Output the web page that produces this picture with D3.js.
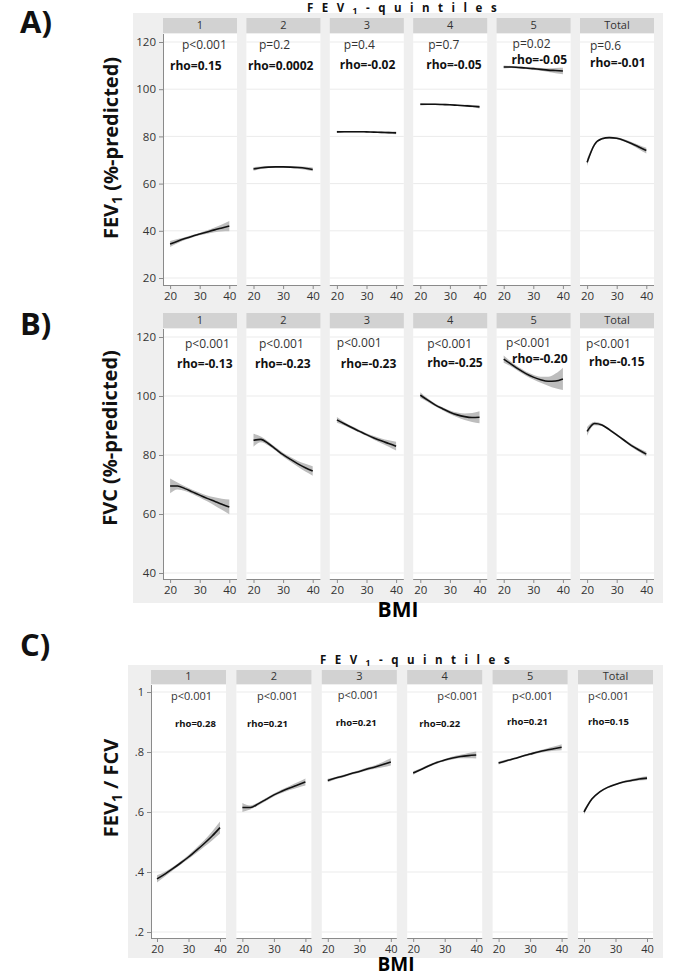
<!DOCTYPE html>
<html>
<head>
<meta charset="utf-8">
<script src="https://cdn.jsdelivr.net/npm/d3@7"></script>
<style>
  body { margin: 0; background: #fff; }
  svg { display: block; }
  text { font-family: "Open Sans", "DejaVu Sans", sans-serif; }
</style>
</head>
<body>
<div id="chart"></div>
<script>
// facettes et grille BMI
const facets = ["1", "2", "3", "4", "5", "Total"];
const bmi = [20, 22.5, 25, 27.5, 30, 32.5, 35, 37.5, 40];
const bmiTicks = [20, 30, 40];

// A) FEV1 (%-predicted)
const fev1Fit = [
  [34.4, 35.6, 36.7, 37.7, 38.6, 39.5, 40.4, 41.2, 42.0],
  [66.2, 66.7, 67.0, 67.1, 67.1, 67.0, 66.8, 66.5, 66.0],
  [81.9, 82.0, 82.0, 82.0, 81.9, 81.8, 81.7, 81.6, 81.5],
  [93.6, 93.6, 93.6, 93.5, 93.4, 93.2, 93.0, 92.8, 92.5],
  [109.4, 109.4, 109.2, 109.0, 108.7, 108.4, 108.1, 107.9, 107.7],
  [69.0, 76.5, 79.0, 79.5, 79.2, 78.3, 77.0, 75.5, 74.0]
];
const fev1Ci = [
  [1.3, 0.9, 0.6, 0.5, 0.5, 0.7, 1.0, 1.5, 2.2],
  [0.8, 0.5, 0.4, 0.3, 0.3, 0.4, 0.5, 0.6, 0.8],
  [0.5, 0.3, 0.3, 0.3, 0.3, 0.3, 0.4, 0.5, 0.6],
  [0.5, 0.3, 0.3, 0.3, 0.3, 0.3, 0.4, 0.5, 0.7],
  [0.6, 0.4, 0.4, 0.4, 0.5, 0.6, 0.8, 1.1, 1.4],
  [1.5, 0.6, 0.4, 0.4, 0.4, 0.5, 0.6, 0.9, 1.2]
];
const fev1P = ["p<0.001", "p=0.2", "p=0.4", "p=0.7", "p=0.02", "p=0.6"];
const fev1Rho = ["rho=0.15", "rho=0.0002", "rho=-0.02", "rho=-0.05", "rho=-0.05", "rho=-0.01"];
const fev1Ticks = [20, 40, 60, 80, 100, 120];

// B) FVC (%-predicted)
const fvcFit = [
  [69.5, 69.5, 68.6, 67.5, 66.4, 65.3, 64.3, 63.3, 62.4],
  [85.0, 85.3, 83.9, 82.0, 80.1, 78.5, 77.0, 75.7, 74.6],
  [91.9, 90.6, 89.3, 88.1, 86.9, 85.8, 84.8, 83.9, 83.0],
  [100.3, 98.6, 97.0, 95.7, 94.5, 93.6, 93.0, 92.7, 92.8],
  [112.5, 110.8, 109.1, 107.6, 106.4, 105.5, 105.0, 105.1, 105.8],
  [88.0, 90.7, 90.2, 88.6, 86.8, 85.0, 83.2, 81.7, 80.3]
];
const fvcCi = [
  [2.5, 1.2, 0.8, 0.7, 0.8, 1.0, 1.4, 1.9, 2.5],
  [2.2, 1.0, 0.7, 0.6, 0.7, 0.8, 1.0, 1.3, 1.6],
  [1.0, 0.6, 0.5, 0.5, 0.5, 0.6, 0.8, 1.1, 1.5],
  [1.0, 0.6, 0.5, 0.5, 0.6, 0.8, 1.1, 1.5, 2.0],
  [1.2, 0.8, 0.7, 0.7, 0.8, 1.0, 1.5, 2.5, 3.8],
  [1.5, 0.6, 0.4, 0.4, 0.4, 0.4, 0.5, 0.6, 0.8]
];
const fvcP = ["p<0.001", "p<0.001", "p<0.001", "p<0.001", "p<0.001", "p<0.001"];
const fvcRho = ["rho=-0.13", "rho=-0.23", "rho=-0.23", "rho=-0.25", "rho=-0.20", "rho=-0.15"];
const fvcTicks = [40, 60, 80, 100, 120];

// C) FEV1 / FVC
const ratioFit = [
  [0.377, 0.393, 0.411, 0.430, 0.450, 0.472, 0.495, 0.520, 0.548],
  [0.615, 0.615, 0.627, 0.642, 0.657, 0.669, 0.680, 0.690, 0.700],
  [0.705, 0.713, 0.720, 0.728, 0.735, 0.743, 0.750, 0.758, 0.767],
  [0.730, 0.742, 0.754, 0.765, 0.773, 0.780, 0.785, 0.788, 0.790],
  [0.763, 0.771, 0.778, 0.786, 0.793, 0.800, 0.806, 0.811, 0.816],
  [0.600, 0.643, 0.667, 0.682, 0.692, 0.700, 0.705, 0.710, 0.713]
];
const ratioCi = [
  [0.012, 0.008, 0.006, 0.006, 0.007, 0.009, 0.011, 0.015, 0.020],
  [0.015, 0.007, 0.005, 0.005, 0.005, 0.006, 0.007, 0.009, 0.012],
  [0.006, 0.004, 0.004, 0.004, 0.004, 0.005, 0.006, 0.009, 0.012],
  [0.006, 0.004, 0.004, 0.004, 0.004, 0.005, 0.006, 0.009, 0.012],
  [0.005, 0.004, 0.003, 0.003, 0.004, 0.004, 0.005, 0.007, 0.010],
  [0.008, 0.004, 0.003, 0.003, 0.003, 0.003, 0.004, 0.005, 0.006]
];
const ratioP = ["p<0.001", "p<0.001", "p<0.001", "p<0.001", "p<0.001", "p<0.001"];
const ratioRho = ["rho=0.28", "rho=0.21", "rho=0.21", "rho=0.22", "rho=0.21", "rho=0.15"];
const ratioTicks = [0.2, 0.4, 0.6, 0.8, 1];

const W = 674, H = 973;
const svg = d3.select("#chart").append("svg")
  .attr("width", W).attr("height", H);

const axisCol = "#8a8a8a";

// fonds gris
svg.append("rect").attr("x", 133).attr("y", 13).attr("width", 530).attr("height", 590).attr("fill", "#efefef");
svg.append("rect").attr("x", 128).attr("y", 665).attr("width", 535).attr("height", 293).attr("fill", "#efefef");

function drawPanel(c) {
  const g = svg.append("g");
  const y = d3.scaleLinear().domain(c.yDomain).range(c.yRange);
  const lefts = facets.map((f, i) => c.left0 + i * c.pitch);

  facets.forEach((f, i) => {
    const x = d3.scaleLinear().domain(c.xDomain).range([lefts[i], lefts[i] + c.fw]);
    const fg = g.append("g");

    // en-tête
    fg.append("rect").attr("x", lefts[i]).attr("y", c.headTop)
      .attr("width", c.fw).attr("height", c.plotTop - c.headTop).attr("fill", "#d2d2d2");
    fg.append("text").attr("x", lefts[i] + c.fw / 2).attr("y", c.plotTop - 4)
      .attr("text-anchor", "middle").attr("font-size", 11).attr("fill", "#333").text(f);

    // zone blanche
    fg.append("rect").attr("x", lefts[i]).attr("y", c.plotTop + 1)
      .attr("width", c.fw).attr("height", c.plotBottom - c.plotTop - 1).attr("fill", "#fff");

    // grille
    fg.selectAll(".grid").data(c.ticks).enter().append("line")
      .attr("x1", lefts[i]).attr("x2", lefts[i] + c.fw)
      .attr("y1", d => y(d)).attr("y2", d => y(d))
      .attr("stroke", "#ebebeb").attr("stroke-width", 1);

    const pts = bmi.map((b, j) => ({ b: b, v: c.fit[i][j], e: c.ci[i][j] }));

    fg.append("path").datum(pts)
      .attr("fill", "#bdbdbd")
      .attr("d", d3.area().curve(d3.curveMonotoneX)
        .x(d => x(d.b)).y0(d => y(d.v - d.e)).y1(d => y(d.v + d.e)));
    fg.append("path").datum(pts)
      .attr("fill", "none").attr("stroke", "#111").attr("stroke-width", 1.6)
      .attr("d", d3.line().curve(d3.curveMonotoneX).x(d => x(d.b)).y(d => y(d.v)));

    // axe x
    const xa = fg.append("g").attr("transform", `translate(0,${c.plotBottom})`)
      .call(d3.axisBottom(x).tickValues(bmiTicks).tickSize(4).tickSizeOuter(0).tickPadding(3));
    xa.select(".domain").attr("stroke", axisCol).attr("d", `M${lefts[i]},0.5H${lefts[i] + c.fw}`);
    xa.selectAll(".tick line").attr("stroke", axisCol);
    xa.selectAll(".tick text").attr("font-family", "Open Sans, sans-serif")
      .attr("font-size", c.tickFont).attr("fill", "#333");

    // annotations
    fg.append("text").attr("x", lefts[i] + c.pdx[i]).attr("y", c.py[i] + 4)
      .attr("font-size", c.pFont).attr("fill", "#333").text(c.p[i]);
    fg.append("text").attr("x", lefts[i] + c.rdx[i]).attr("y", c.ry[i] + 4)
      .attr("font-size", c.rFont).attr("font-weight", "bold").attr("fill", "#111").text(c.rho[i]);
  });

  // axe y
  const ya = g.append("g").attr("transform", `translate(${lefts[0]},0)`)
    .call(d3.axisLeft(y).tickValues(c.ticks).tickFormat(c.fmt).tickSize(4).tickPadding(3));
  ya.select(".domain").attr("stroke", axisCol).attr("d", `M0.5,${c.plotTop + 1}V${c.plotBottom}`);
  ya.selectAll(".tick line").attr("stroke", axisCol);
  ya.selectAll(".tick text").attr("font-family", "Open Sans, sans-serif")
    .attr("font-size", c.tickFont).attr("fill", "#333");
}

drawPanel({
  left0: 163, pitch: 83.4, fw: 74, xDomain: [17.6, 42.6],
  headTop: 18, plotTop: 33, plotBottom: 285,
  yDomain: [20, 120], yRange: [278, 42], ticks: fev1Ticks, fmt: d3.format("d"),
  fit: fev1Fit, ci: fev1Ci, p: fev1P, rho: fev1Rho,
  pdx: [19, 12.6, 14, 15, 16, 10], py: [45, 45, 45, 45, 43.5, 46],
  rdx: [7, 1.6, 10, 13, 15, 10], ry: [66, 66, 65, 65, 59.5, 63],
  pFont: 12, rFont: 12, tickFont: 11.5
});

drawPanel({
  left0: 163, pitch: 83.4, fw: 74, xDomain: [17.6, 42.6],
  headTop: 313, plotTop: 328, plotBottom: 579,
  yDomain: [40, 120], yRange: [573, 337], ticks: fvcTicks, fmt: d3.format("d"),
  fit: fvcFit, ci: fvcCi, p: fvcP, rho: fvcRho,
  pdx: [22, 12.6, 7, 14, 9.5, 6], py: [344, 344, 343, 344, 342.5, 344],
  rdx: [14, 8.6, 11, 14, 15.4, 9], ry: [364, 364, 364, 363, 358.5, 362],
  pFont: 12, rFont: 12, tickFont: 11.5
});

drawPanel({
  left0: 151, pitch: 85.4, fw: 75, xDomain: [18.1, 41.9],
  headTop: 670, plotTop: 684, plotBottom: 938,
  yDomain: [0.2, 1], yRange: [932, 692], ticks: ratioTicks,
  fmt: d => d === 1 ? "1" : d3.format(".1f")(d).replace(/^0/, ""),
  fit: ratioFit, ci: ratioCi, p: ratioP, rho: ratioRho,
  pdx: [20, 20.6, 16, 30, 19.4, 10], py: [696, 696, 695, 696, 696, 696],
  rdx: [24, 10.6, 14, 12, 14.4, 10], ry: [723, 723, 722, 723, 721, 721],
  pFont: 11, rFont: 9.5, tickFont: 11
});

// titres de facettes
function title(xc, yb) {
  const t = svg.append("text").attr("x", xc).attr("y", yb).attr("text-anchor", "middle")
    .attr("font-size", 11.5).attr("font-weight", "bold").attr("letter-spacing", 8.5).attr("fill", "#111");
  t.append("tspan").text("FEV");
  t.append("tspan").attr("font-size", 8.5).attr("dy", 2).text("1");
  t.append("tspan").attr("dy", -2).text("-quintiles");
}
title(406, 12);
title(419, 664);

// libellés d'axes
function ylab(xb, yc, main, rest) {
  const t = svg.append("text").attr("transform", `translate(${xb},${yc}) rotate(-90)`)
    .attr("text-anchor", "middle").attr("font-family", "Lato, sans-serif")
    .attr("font-weight", "bold").attr("font-size", 20).attr("fill", "#111");
  t.append("tspan").text(main);
  if (rest !== null) {
    t.append("tspan").attr("font-size", 14).attr("dy", 4).text("1");
    t.append("tspan").attr("dy", -4).text(rest);
  }
}
ylab(118, 148, "FEV", " (%-predicted)");
ylab(117, 438, "FVC (%-predicted)", null);
ylab(118, 788, "FEV", " / FCV");

function lab(x, y, s, txt) {
  svg.append("text").attr("x", x).attr("y", y).attr("font-family", "Lato, sans-serif")
    .attr("font-weight", "bold").attr("font-size", s).attr("fill", "#111").text(txt);
}
lab(20, 33, 31, "A)");
lab(20, 335, 31, "B)");
lab(20, 656, 31, "C)");
svg.append("text").attr("x", 398).attr("y", 617).attr("text-anchor", "middle")
  .attr("font-family", "Lato, sans-serif").attr("font-weight", "bold").attr("font-size", 21).text("BMI");
svg.append("text").attr("x", 396).attr("y", 971).attr("text-anchor", "middle")
  .attr("font-family", "Lato, sans-serif").attr("font-weight", "bold").attr("font-size", 19).text("BMI");
</script>
</body>
</html>
